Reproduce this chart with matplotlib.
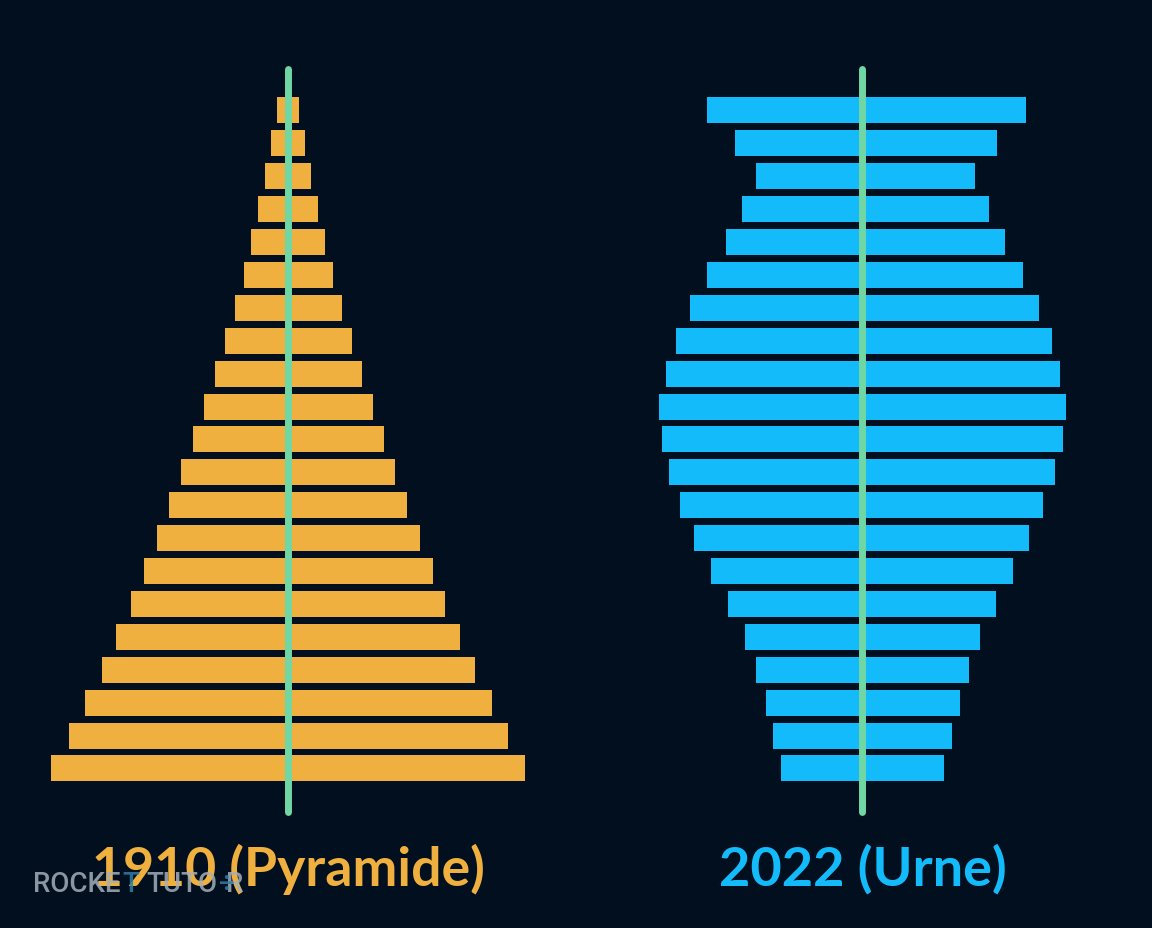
"""Population pyramids 1910 vs 2022"""
import matplotlib
matplotlib.use("Agg")
import matplotlib.pyplot as plt

# age groups from the top bar (oldest) to the bottom bar (youngest)
age_rank = list(range(21))

# half widths of each bar, left and right of the centre line
left_1910 = [11, 17, 23, 30, 37, 44, 53, 63, 73, 84, 95, 107, 119, 131, 144, 157, 172, 186, 203, 219, 237]
right_1910 = [11, 17, 23, 30, 37, 45, 54, 64, 74, 85, 96, 107, 119, 132, 145, 157, 172, 187, 204, 220, 237]
left_2022 = [155, 127, 106, 120, 136, 155, 172, 186, 196, 203, 200, 193, 182, 168, 151, 134, 117, 106, 96, 89, 81]
right_2022 = [164, 135, 113, 127, 143, 161, 177, 190, 198, 204, 201, 193, 181, 167, 151, 134, 118, 107, 98, 90, 82]

label_1910 = "1910 (Pyramide)"
label_2022 = "2022 (Urne)"

BG = "#010f1e"
ORANGE = "#f0b03f"
BLUE = "#14bbfb"
GREEN = "#6fd6a4"
LOGO = "#a3afb9"
LOGO_BLUE = "#2f7ea6"

STEP = 32.9
BAR_H = 26
Y0 = 110.5
CX_1910 = 288
CX_2022 = 862

fig = plt.figure(figsize=(11.52, 9.2801), dpi=100, facecolor=BG)
ax = fig.add_axes([0, 0, 1, 1])
ax.set_facecolor(BG)
ax.set_xlim(0, 1152)
ax.set_ylim(928, 0)
ax.axis("off")

ys = [Y0 + r * STEP for r in age_rank]

for cx, left, right, color in [(CX_1910, left_1910, right_1910, ORANGE),
                               (CX_2022, left_2022, right_2022, BLUE)]:
    ax.barh(ys, [-v for v in left], left=cx, height=BAR_H, color=color, edgecolor="none")
    ax.barh(ys, right, left=cx, height=BAR_H, color=color, edgecolor="none")
    # centre line
    ax.plot([cx - 0.5, cx - 0.5], [69, 812], color=GREEN, linewidth=5, solid_capstyle="round")

ax.text(288, 869, label_1910, color=ORANGE, fontsize=38.5, fontweight="bold",
        family="Lato", ha="center", va="center")
ax.text(863, 869, label_2022, color=BLUE, fontsize=39, fontweight="bold",
        family="Lato", ha="center", va="center")

# logo over the left label, the T and the R carry blue accents
for x, part, col in [(33, "ROCKE", LOGO), (122, "T", LOGO_BLUE), (146, "TUTO", LOGO),
                     (226, "R", LOGO), (218, "÷", LOGO_BLUE)]:
    ax.text(x, 884, part, color=col, alpha=0.85, fontsize=20,
            family="Roboto", fontweight="medium", ha="left", va="center")

plt.savefig("out.png", dpi=100, facecolor=BG)
plt.close()
